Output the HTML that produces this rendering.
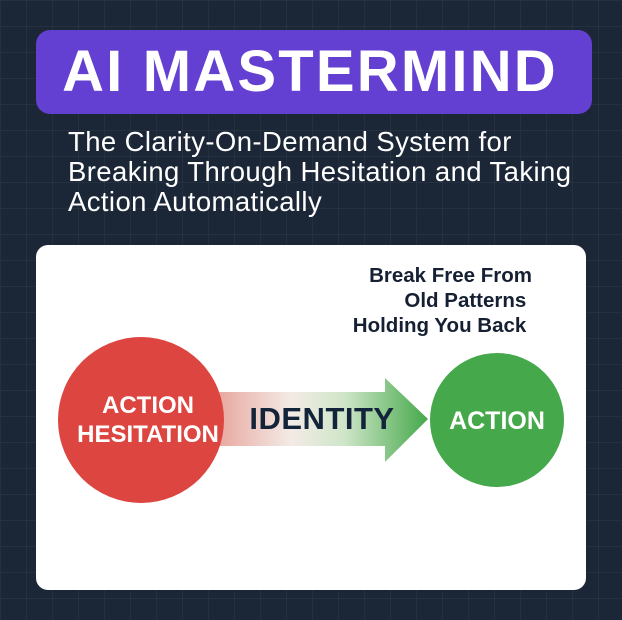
<!DOCTYPE html>
<html><head><meta charset="utf-8"><style>
html,body{margin:0;padding:0}
body{width:622px;height:620px;position:relative;overflow:hidden;background:#1b2637;
background-image:linear-gradient(rgba(255,255,255,0.04) 1px,transparent 1px),linear-gradient(90deg,rgba(255,255,255,0.04) 1px,transparent 1px);background-size:26px 26px;font-family:"Liberation Sans",sans-serif}
.title{position:absolute;left:32px;top:30px;width:556px;height:84px;background:#6440d2;border-radius:14px;color:#fff;font-weight:bold;font-size:58px;line-height:84px;text-align:center;letter-spacing:2.2px}
.sub{position:absolute;left:68px;top:127px;color:#fff;font-size:27.5px;line-height:30px;letter-spacing:0.4px}
.card{position:absolute;left:36px;top:245px;width:550px;height:345px;background:#fff;border-radius:12px}
.t{position:absolute;font-weight:bold}
</style></head><body>
<div class="title" style="left:36px;width:548px;padding-right:8px">AI MASTERMIND</div>
<div class="sub">The Clarity-On-Demand System for<br>Breaking Through Hesitation and Taking<br>Action Automatically</div>
<div class="card"></div>
<div class="t" style="right:90px;top:263px;text-align:right;font-size:20.5px;line-height:25px;color:#162033;">Break Free From<br>Old Patterns&nbsp;<br>Holding You Back&nbsp;</div>
<svg style="position:absolute;left:0;top:0" width="622" height="620">
<defs><linearGradient id="g" x1="0" x2="1"><stop offset="0" stop-color="#e8a8a0"/><stop offset="0.35" stop-color="#f3ebe6"/><stop offset="0.6" stop-color="#cfe6c9"/><stop offset="1" stop-color="#45a84a"/></linearGradient></defs>
<polygon points="218,392 385,392 385,378 428,419 385,462 385,446 218,446" fill="url(#g)"/>
<circle cx="141" cy="420" r="83" fill="#dd4540"/>
<circle cx="497" cy="420" r="67" fill="#45a84a"/>
<text x="148" y="413" fill="#fff" font-family="Liberation Sans" font-weight="bold" font-size="24" text-anchor="middle">ACTION</text>
<text x="148" y="442" fill="#fff" font-family="Liberation Sans" font-weight="bold" font-size="24" text-anchor="middle">HESITATION</text>
<text x="322" y="429" fill="#13233a" font-family="Liberation Sans" font-weight="bold" font-size="31" text-anchor="middle" letter-spacing="0.5">IDENTITY</text>
<text x="497" y="429" fill="#fff" font-family="Liberation Sans" font-weight="bold" font-size="25" text-anchor="middle">ACTION</text>
</svg>
</body></html>
